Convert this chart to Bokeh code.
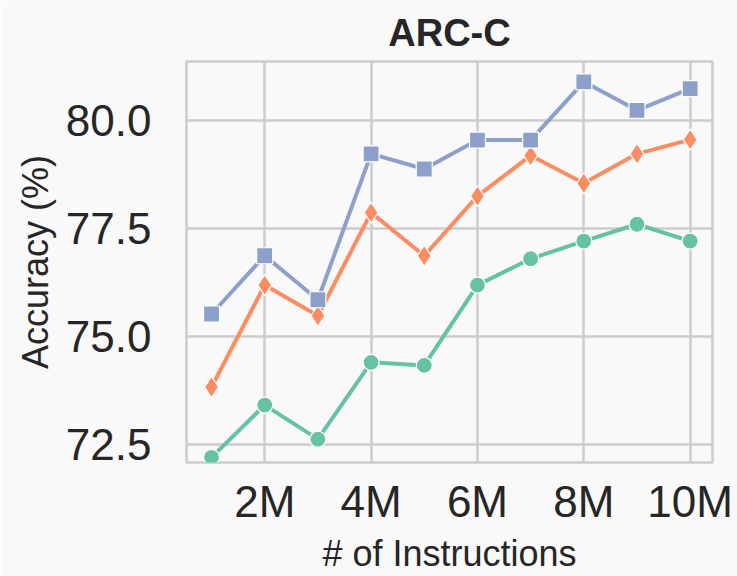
from bokeh.plotting import figure
from bokeh.models import FixedTicker, ColumnDataSource
from bokeh.embed import file_html
from bokeh.resources import INLINE

# data
instructions = [1, 2, 3, 4, 5, 6, 7, 8, 9, 10]
series_green = [72.20, 73.41, 72.62, 74.40, 74.33, 76.19, 76.80, 77.21, 77.60, 77.21]
series_orange = [73.83, 76.19, 75.48, 77.87, 76.87, 78.25, 79.19, 78.55, 79.23, 79.56]
series_blue = [75.52, 76.87, 75.85, 79.23, 78.88, 79.55, 79.55, 80.90, 80.24, 80.74]
x_ticks = [2, 4, 6, 8, 10]
x_tick_labels = ["2M", "4M", "6M", "8M", "10M"]
y_ticks = [72.5, 75.0, 77.5, 80.0]

FONT = "Liberation Sans"
TXT = "#262626"
BG = "#f9f9f9"
GRID = "#cccccc"

p = figure(width=737, height=576, output_backend="svg", toolbar_location=None,
           x_range=(0.529, 10.42), y_range=(72.08, 81.37),
           min_border_left=186, min_border_right=25, min_border_top=61, min_border_bottom=113,
           background_fill_color=BG, border_fill_color=BG)

p.title.text = "ARC-C"
p.title.align = "center"
p.title.text_font = FONT
p.title.text_font_size = "38px"
p.title.text_font_style = "bold"
p.title.text_color = TXT
p.title.standoff = 16

p.outline_line_color = GRID
p.outline_line_width = 2.5

for ax in (p.xaxis[0], p.yaxis[0]):
    ax.axis_line_color = None
    ax.major_tick_line_color = None
    ax.minor_tick_line_color = None
    ax.major_label_text_font = FONT
    ax.major_label_text_font_size = "44px"
    ax.major_label_text_color = TXT
    ax.axis_label_text_font = FONT
    ax.axis_label_text_font_size = "36px"
    ax.axis_label_text_font_style = "normal"
    ax.axis_label_text_color = TXT

p.xaxis.ticker = FixedTicker(ticks=x_ticks)
p.xaxis.major_label_overrides = {t: l for t, l in zip(x_ticks, x_tick_labels)}
p.xaxis.major_label_standoff = 8
p.xaxis.axis_label = "# of Instructions"
p.xaxis.axis_label_standoff = 4

p.yaxis.ticker = FixedTicker(ticks=y_ticks)
p.yaxis.major_label_overrides = {t: f"{t:.1f}" for t in y_ticks}
p.yaxis.major_label_standoff = 29
p.yaxis.axis_label = "Accuracy (%)"
p.yaxis.axis_label_standoff = 7

p.xgrid.grid_line_color = GRID
p.ygrid.grid_line_color = GRID
p.xgrid.grid_line_width = 2.5
p.ygrid.grid_line_width = 2.5

src = ColumnDataSource(dict(x=instructions, g=series_green, o=series_orange, b=series_blue))

p.line("x", "g", source=src, line_color="#66c2a5", line_width=4)
p.scatter("x", "g", source=src, marker="circle", size=16, fill_color="#66c2a5",
          line_color="white", line_width=1.2)
p.line("x", "o", source=src, line_color="#fc8d62", line_width=4)
p.scatter("x", "o", source=src, marker="diamond", size=21, fill_color="#fc8d62",
          line_color="white", line_width=1.2)
p.line("x", "b", source=src, line_color="#8da0cb", line_width=4)
p.scatter("x", "b", source=src, marker="square", size=16, fill_color="#8da0cb",
          line_color="white", line_width=1.2)

open("out.html", "w").write(file_html(p, INLINE))
